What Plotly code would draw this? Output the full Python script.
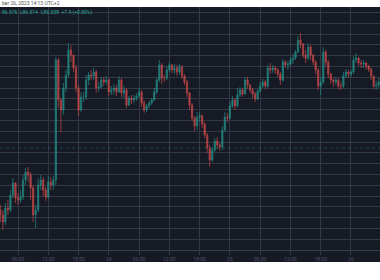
import plotly.graph_objects as go
import pandas as pd

# ---- data (price units arbitrary) ----
start_time = "2023-10-23 02:30"
first_open = 40
closes = [35, 28, 42, 40, 55, 67, 52, 50, 53, 70, 78, 75, 62, 35, 40, 65, 70, 60, 53, 68,
          65, 70, 190, 150, 140, 162, 175, 200, 195, 182, 162, 140, 153, 153, 170, 175, 174, 178, 162, 163,
          170, 168, 170, 158, 160, 162, 158, 170, 157, 160, 145, 152, 150, 152, 154, 158, 147, 140, 144, 147,
          150, 158, 170, 185, 172, 172, 180, 185, 180, 182, 178, 183, 174, 168, 157, 145, 132, 124, 133, 134,
          126, 115, 102, 90, 100, 109, 105, 103, 120, 133, 132, 144, 150, 144, 155, 160, 156, 170, 165, 160,
          156, 151, 159, 164, 168, 164, 182, 180, 182, 180, 176, 170, 188, 185, 186, 190, 192, 198, 210, 206,
          195, 192, 203, 195, 188, 180, 164, 168, 198, 188, 176, 170, 168, 170, 164, 164, 174, 178, 176, 178,
          190, 192, 187, 186, 187, 184, 181, 174, 164, 165, 168]
highs = [45, 40, 47, 50, 60, 72, 68, 57, 60, 75, 82, 83, 78, 65, 45, 72, 75, 73, 63, 74,
         73, 74, 193, 192, 152, 167, 180, 207, 205, 195, 185, 165, 158, 158, 175, 178, 180, 182, 180, 168,
         173, 173, 174, 172, 164, 166, 165, 174, 172, 164, 162, 154, 155, 155, 157, 162, 160, 150, 146, 149,
         152, 162, 172, 190, 187, 175, 184, 188, 186, 186, 185, 186, 185, 176, 170, 158, 147, 134, 138, 138,
         136, 128, 117, 105, 103, 112, 113, 107, 124, 138, 137, 148, 154, 152, 162, 163, 162, 173, 173, 166,
         162, 158, 161, 168, 171, 170, 185, 187, 185, 184, 182, 178, 191, 190, 189, 193, 196, 200, 214, 217,
         207, 200, 207, 205, 196, 190, 182, 173, 203, 200, 190, 177, 172, 173, 172, 168, 178, 181, 180, 180,
         194, 197, 193, 190, 190, 188, 185, 182, 174, 169, 172]
lows = [28, 20, 25, 35, 38, 52, 47, 45, 47, 50, 65, 68, 50, 28, 22, 38, 60, 54, 49, 51,
        60, 60, 65, 142, 118, 135, 158, 172, 188, 178, 158, 134, 138, 148, 150, 165, 170, 170, 157, 158,
        162, 164, 165, 154, 155, 155, 154, 157, 153, 152, 142, 144, 146, 147, 149, 152, 143, 137, 138, 142,
        145, 149, 156, 168, 166, 168, 170, 178, 177, 176, 174, 175, 171, 165, 153, 140, 129, 119, 120, 128,
        122, 112, 97, 83, 88, 98, 101, 99, 100, 118, 128, 130, 142, 140, 143, 153, 153, 155, 161, 157,
        152, 148, 150, 157, 162, 161, 162, 176, 177, 176, 173, 165, 168, 182, 180, 184, 186, 190, 197, 202,
        192, 187, 190, 190, 185, 176, 160, 155, 166, 183, 172, 166, 163, 165, 161, 160, 162, 172, 172, 173,
        176, 187, 184, 182, 182, 180, 178, 170, 161, 160, 162]
prev_close_level = 102
tick_times = ["2023-10-23 06:00", "2023-10-23 12:00", "2023-10-23 18:00", "2023-10-24 00:00",
              "2023-10-24 06:00", "2023-10-24 12:00", "2023-10-24 18:00", "2023-10-25 00:00",
              "2023-10-25 06:00", "2023-10-25 12:00", "2023-10-25 18:00", "2023-10-26 00:00"]
tick_labels = ["06:00", "12:00", "18:00", "24", "06:00", "12:00", "18:00", "25",
               "06:00", "12:00", "18:00", "26"]
header_text = "ber 26, 2023 14:13 UTC+2"
ohlc_text = "86.576  L86.514  C86.558  +7.4 (+0.00%)"

# ---- build ----
times = pd.date_range(start_time, periods=len(closes), freq="30min")
opens = [first_open] + closes[:-1]
hi = [max(h, o, c) for h, o, c in zip(highs, opens, closes)]
lo = [min(l, o, c) for l, o, c in zip(lows, opens, closes)]

BG = "#161a25"
GRID = "#333743"

fig = go.Figure()
fig.add_trace(go.Candlestick(
    x=times, open=opens, high=hi, low=lo, close=closes,
    increasing=dict(line=dict(color="#26a69a", width=0.8), fillcolor="#26a69a"),
    decreasing=dict(line=dict(color="#ef5350", width=0.8), fillcolor="#ef5350"),
    opacity=0.7, whiskerwidth=0, showlegend=False,
))

fig.add_hline(y=prev_close_level, line=dict(color="rgba(38,166,154,0.3)", width=1, dash="dot"))

# time-axis band
fig.add_shape(type="rect", xref="paper", yref="paper", x0=0, x1=1, y0=-12 / 243, y1=0,
              fillcolor=BG, line=dict(width=0), layer="below")

fig.add_annotation(text=header_text, xref="paper", yref="paper", x=0, y=(250 - 3) / 243,
                   xanchor="left", yanchor="middle", showarrow=False,
                   font=dict(size=5, color="#555", family="Roboto"))
fig.add_annotation(text=ohlc_text, xref="paper", yref="paper", x=0, y=(250 - 12) / 243,
                   xanchor="left", yanchor="middle", showarrow=False,
                   font=dict(size=5, color="#26a69a", family="Roboto"))

fig.update_layout(
    width=380, height=280,
    margin=dict(l=0, r=0, t=7, b=30),
    paper_bgcolor="white", plot_bgcolor=BG,
    xaxis=dict(type="date", range=["2023-10-23 02:26", "2023-10-26 05:45"],
               rangeslider=dict(visible=False),
               tickvals=tick_times, ticktext=tick_labels,
               showgrid=True, gridcolor=GRID, gridwidth=1,
               ticks="outside", ticklen=4, tickcolor=GRID,
               showline=True, linecolor="#3a3e4a",
               tickfont=dict(size=5, color="#4f5360", family="Roboto"),
               zeroline=False),
    yaxis=dict(range=[0, 243], tick0=0, dtick=10.8, showticklabels=False,
               showgrid=True, gridcolor=GRID, gridwidth=1, zeroline=False, fixedrange=True),
)

fig.write_html("out.html")
